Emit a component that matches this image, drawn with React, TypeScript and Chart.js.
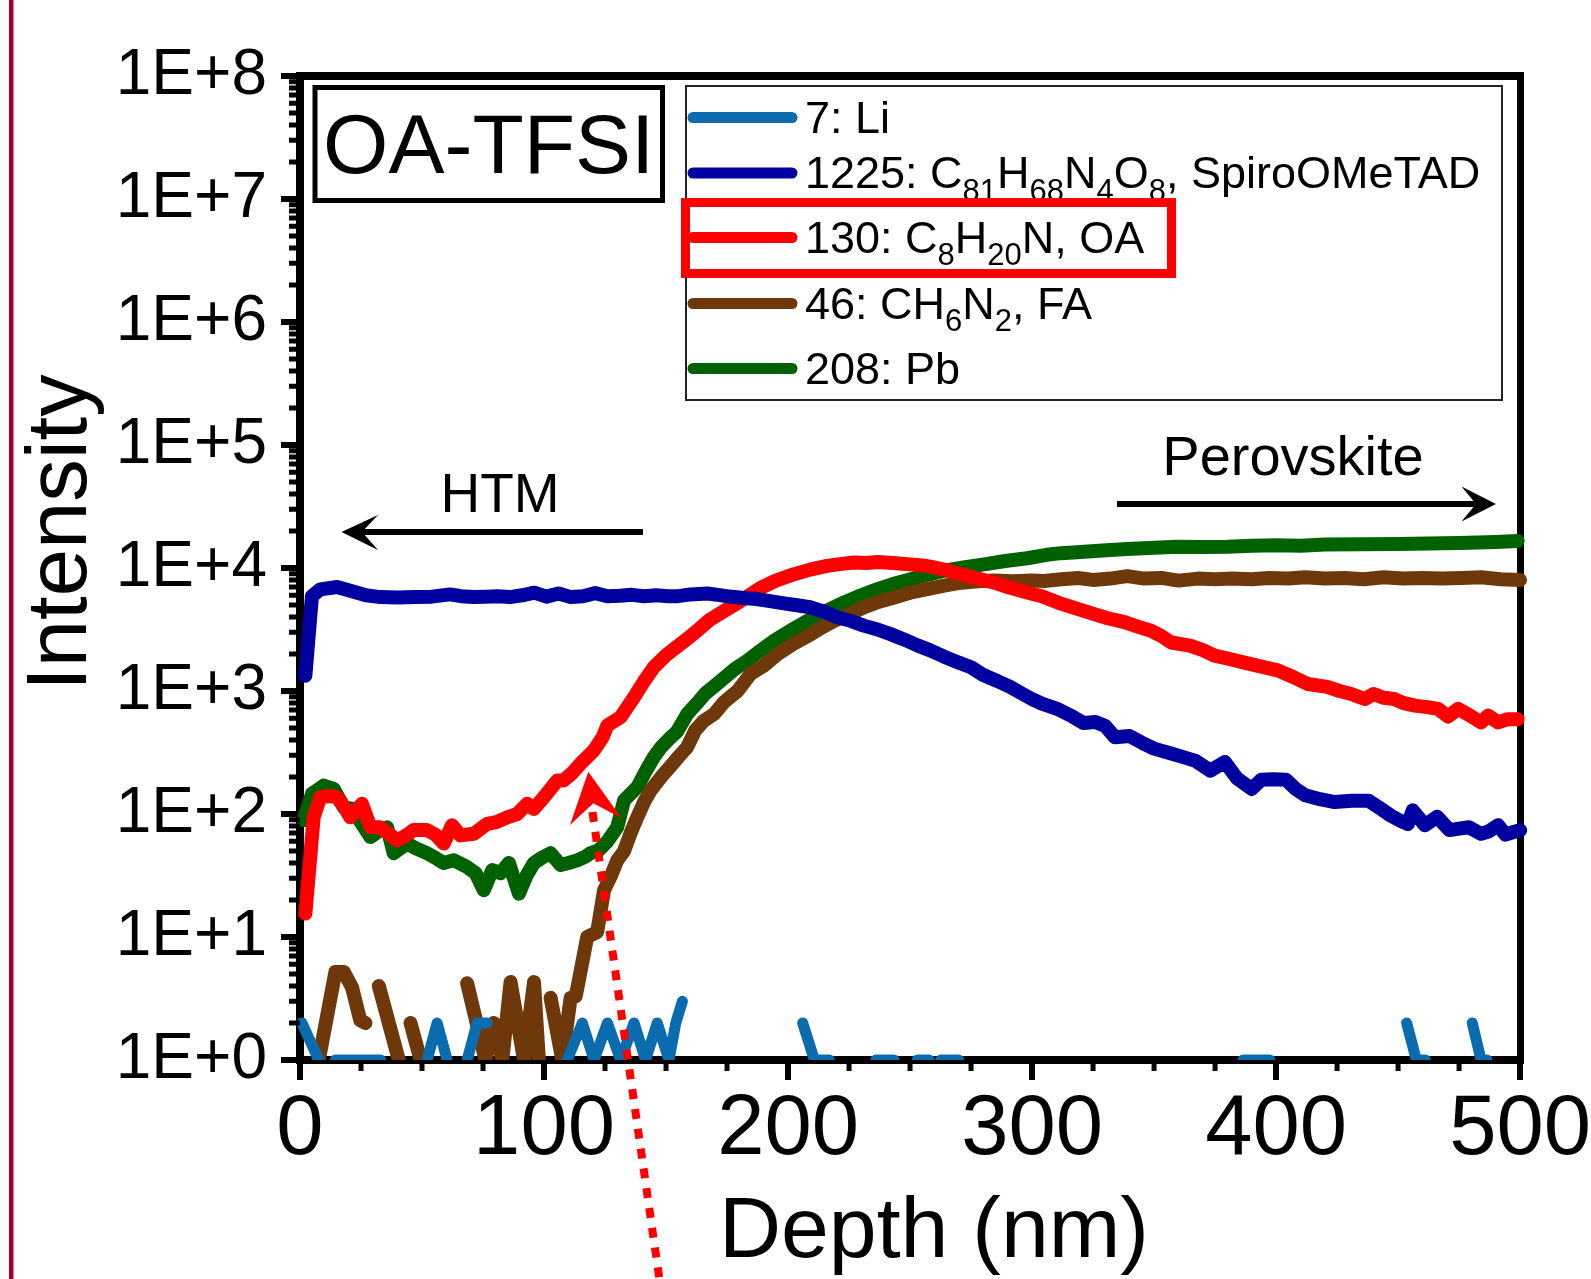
import React, { useEffect, useRef } from 'react';
import { Chart, registerables } from 'chart.js';

Chart.register(...registerables);

const FONT = '"Liberation Sans", Arial, Helvetica, sans-serif';
const W = 1591;
const H = 1279;

// ---------- data (depth in nm, intensity in counts; null = no counts) ----------
const liDepth = [0.8, 7.7, 11, 14.5, 33, 42, 52.1, 56.2, 60.3, 64, 68.5, 72.6, 76.7, 93, 109.5, 115.7, 120.5, 126, 131.4, 136.9, 141.6, 146.4, 151.2, 154, 156.7, 180, 206, 210.8, 216.9, 226, 236, 243.4, 248, 253, 257.8, 260, 262.6, 269.9, 330, 386.5, 397.4, 425, 453.5, 457.5, 461.2, 470, 480.4, 484, 486.4];
const liCounts = [2, 1, null, 1, 1, null, 1, 2, 1, null, 1, 2, 2, null, 1, 2, 1, 2, 1, 2, 1, 2, 1, 2, 3, null, 2, 1, 1, null, 1, 1, null, 1, 1, null, 1, 1, null, 1, 1, null, 2, 1, 1, null, 2, 1, 1];

const spiroDepth = [2.2, 4.9, 8.3, 15.2, 22, 27, 33, 40, 47, 54, 61.5, 66, 71, 76, 81, 86, 91, 96, 101, 106, 111, 116, 121, 126, 131, 136, 141, 146, 151, 155, 160, 167, 175, 182, 187, 192, 197, 203, 209, 215, 220, 226, 231, 237, 242, 248, 253, 258, 264, 270, 275, 280, 286, 291, 296, 300, 304, 310, 316, 321, 326, 330, 334, 340, 345, 350, 357, 362, 367, 373, 379, 384, 390, 394, 399, 404, 408, 412, 418, 424, 431, 438, 443, 447, 451, 454, 456, 461, 466, 471, 475, 479, 484, 487, 491, 494, 497, 500];
const spiroCounts = [1330, 5900, 6700, 7000, 6400, 6000, 5800, 5750, 5800, 5850, 6100, 5900, 5800, 5850, 5900, 5800, 6000, 6300, 5850, 6200, 5800, 5900, 6250, 5900, 5950, 6050, 5900, 6000, 5900, 5900, 6100, 6200, 5900, 5700, 5600, 5400, 5200, 5000, 4800, 4400, 4000, 3700, 3400, 3150, 2900, 2600, 2350, 2150, 1900, 1700, 1560, 1350, 1200, 1080, 950, 860, 790, 720, 630, 550, 560, 520, 420, 430, 380, 340, 310, 290, 270, 225, 265, 195, 160, 190, 192, 190, 160, 142, 132, 125, 128, 128, 110, 97, 88, 83, 107, 81, 95, 74, 76, 78, 69, 72, 81, 68, 71, 74];

const oaDepth = [2.2, 5.6, 8.3, 12, 15.2, 18, 20.6, 25.4, 28.9, 33, 36, 39.8, 43, 46.6, 52, 55.5, 58.9, 62.3, 65.8, 71.2, 76.7, 80.5, 84.9, 89, 93.1, 95.8, 100, 105.4, 108, 111.5, 115, 120.5, 124, 126, 131.4, 136.9, 141, 145, 150, 154.6, 158.7, 162.8, 168, 173.8, 180, 188.8, 195, 202.5, 209, 216, 222, 227, 232, 236.7, 243, 250, 255, 260, 265, 270.8, 277, 284.5, 291, 298, 304, 311.9, 318, 325.5, 331, 337.9, 343, 348.8, 353, 357, 364.7, 370, 374.8, 381, 387, 394, 400.7, 407, 413, 421, 426, 430.8, 436.3, 440, 444, 448.5, 452, 456.8, 462, 466.4, 470.5, 474.6, 479, 484, 486.9, 491, 495, 499];
const oaCounts = [15.5, 94, 137, 140, 137, 115, 94, 121, 78, 78, 70, 61, 66, 74, 74, 68, 57.5, 81, 67, 69, 83, 86, 94, 100, 121, 110, 137, 187, 187, 215, 257, 330, 420, 525, 613, 890, 1200, 1560, 1950, 2300, 2650, 3100, 3800, 4470, 5300, 6900, 7900, 8900, 9700, 10400, 10800, 11100, 11000, 11200, 11000, 10700, 10500, 10100, 9600, 8900, 8300, 7600, 6900, 6330, 5900, 5130, 4700, 4220, 3900, 3630, 3350, 3090, 2800, 2480, 2340, 2150, 1940, 1820, 1700, 1580, 1470, 1300, 1140, 1080, 1000, 946, 860, 946, 880, 860, 800, 760, 740, 716, 620, 716, 640, 556, 630, 556, 590, 590];

const faDepth = [7.7, 14.5, 17.9, 21.3, 24.7, 26.8, 29.5, 32.3, 40.5, 43, 45.3, 49.4, 58, 68.5, 76, 79.4, 82.9, 86.3, 91.8, 95.9, 97.9, 100, 102.7, 107.5, 110.9, 113, 117.7, 121.8, 124.6, 127.3, 130, 132.8, 135.5, 138.2, 141, 143.7, 148, 151.9, 155, 158.7, 162, 165.6, 169.7, 174, 179.3, 184.7, 190, 195.7, 202, 209.3, 214, 219, 225, 231, 237, 243.5, 250, 257, 264, 271, 278, 284.5, 292, 300, 305, 312, 318.8, 325, 332, 339, 346, 353, 360, 368, 375, 382, 390, 397, 405, 412, 420, 428, 436, 444, 452, 460, 468, 476, 484, 492, 500];
const faCounts = [1, 5.2, 5.2, 3.9, 2.1, 2, null, 4, 1, null, 2, 1, null, 4.2, 1, 2, 1, 4.3, 1, 4.3, 1, null, 3.2, 1, 3.2, 3.3, 10, 11, 24, 31, 42, 50, 70, 94, 125, 155, 200, 245, 290, 350, 480, 575, 650, 820, 1000, 1380, 1600, 1990, 2400, 2890, 3300, 3720, 4200, 4790, 5300, 5760, 6300, 6740, 7200, 7600, 7800, 7900, 7800, 7900, 7850, 8100, 8300, 8000, 8200, 8600, 8200, 8300, 7900, 8200, 8100, 8200, 8100, 8300, 8200, 8400, 8200, 8300, 8100, 8400, 8200, 8300, 8200, 8300, 8400, 8100, 8000];

const pbDepth = [1.5, 4.9, 9.7, 13.8, 17.9, 21.2, 25, 28.9, 32, 35.7, 38.4, 43.8, 48, 52, 55.5, 58.9, 63, 68.5, 72, 75.3, 78.8, 82.2, 85.6, 89.7, 93, 95.9, 99, 102.7, 106.8, 110, 113.6, 117, 119, 122.5, 126, 130, 132.8, 138.3, 141.5, 145, 148, 151.9, 154.6, 158.7, 162.8, 166, 172.4, 178, 183.4, 189, 194.3, 201, 208, 215, 223, 230, 236.7, 243, 250.3, 257, 264, 272, 280.4, 289, 298, 306, 311.9, 320, 332, 339, 350, 359.7, 370, 380, 390, 400, 410, 420, 435, 450, 462.6, 475, 490, 499];
const pbCounts = [89, 146, 170, 160, 114, 110, 85, 65, 72, 78, 48, 57.5, 52, 48, 44, 40, 42, 37, 33, 24, 35, 33, 40, 22.5, 32, 40, 44, 48, 38.5, 40, 42, 45, 48, 51, 60, 78, 129, 166, 220, 290, 350, 420, 470, 650, 800, 950, 1210, 1500, 1770, 2150, 2560, 3100, 3720, 4400, 5250, 6000, 6740, 7400, 8100, 8800, 9500, 10100, 10700, 11400, 12000, 12800, 13200, 13500, 14000, 14300, 14600, 14900, 14800, 14900, 15200, 15300, 15200, 15500, 15600, 15700, 15800, 16000, 16300, 16600];

const yTickValues = [1, 10, 100, 1e3, 1e4, 1e5, 1e6, 1e7, 1e8];
const yTickLabels = ['1E+0', '1E+1', '1E+2', '1E+3', '1E+4', '1E+5', '1E+6', '1E+7', '1E+8'];
const xTickValues = [0, 100, 200, 300, 400, 500];
const xTickLabels = ['0', '100', '200', '300', '400', '500'];
const xMinorStep = 25;

const legendLabels = [
  '7: Li',
  '1225: C_{81}H_{68}N_{4}O_{8}, SpiroOMeTAD',
  '130: C_{8}H_{20}N, OA',
  '46: CH_{6}N_{2}, FA',
  '208: Pb',
];
const seriesColors = ['#0A6BAE', '#0000A0', '#FF0000', '#6F380B', '#006100'];

// ---------- helpers ----------
const toPoints = (xs: number[], ys: (number | null)[]) => xs.map((x, i) => ({ x, y: ys[i] }));

function drawRich(ctx: CanvasRenderingContext2D, text: string, x: number, y: number, size: number) {
  const parts = text.split(/(_\{[^}]*\})/);
  let cx = x;
  ctx.textAlign = 'left';
  ctx.textBaseline = 'alphabetic';
  for (const p of parts) {
    if (!p) continue;
    if (p.startsWith('_{')) {
      const t = p.slice(2, -1);
      ctx.font = `${Math.round(size * 0.7)}px ${FONT}`;
      ctx.fillText(t, cx, y + size * 0.28);
      cx += ctx.measureText(t).width;
    } else {
      ctx.font = `${size}px ${FONT}`;
      ctx.fillText(p, cx, y);
      cx += ctx.measureText(p).width;
    }
  }
}

function arrowHead(ctx: CanvasRenderingContext2D, pts: number[][]) {
  ctx.beginPath();
  ctx.moveTo(pts[0][0], pts[0][1]);
  for (let i = 1; i < pts.length; i++) ctx.lineTo(pts[i][0], pts[i][1]);
  ctx.closePath();
  ctx.fill();
}

const overlayPlugin = {
  id: 'overlay',
  afterDraw(chart: any) {
    const { ctx, chartArea: ca, scales } = chart;
    const xs = scales.x;
    const ys = scales.y;
    ctx.save();

    // left page border (crimson bar)
    ctx.fillStyle = '#A3002A';
    ctx.fillRect(9, 0, 4.5, H);

    // minor ticks
    ctx.strokeStyle = '#000';
    ctx.lineWidth = 5;
    ctx.lineCap = 'butt';
    ctx.beginPath();
    for (let e = 0; e < 8; e++) {
      for (let m = 2; m <= 9; m++) {
        const py = ys.getPixelForValue(m * Math.pow(10, e));
        ctx.moveTo(ca.left - 11, py);
        ctx.lineTo(ca.left, py);
      }
    }
    for (let v = xMinorStep; v < 500; v += xMinorStep) {
      if (v % 100 === 0) continue;
      const px = xs.getPixelForValue(v);
      ctx.moveTo(px, ca.bottom);
      ctx.lineTo(px, ca.bottom + 11);
    }
    ctx.stroke();

    // OA-TFSI label box
    ctx.lineWidth = 5;
    ctx.strokeStyle = '#000';
    ctx.strokeRect(315, 87.5, 347.5, 113);
    ctx.fillStyle = '#000';
    ctx.font = `84px ${FONT}`;
    ctx.textAlign = 'center';
    ctx.textBaseline = 'alphabetic';
    ctx.fillText('OA-TFSI', 488.75, 173);

    // legend
    ctx.fillStyle = '#fff';
    ctx.fillRect(686, 86, 816, 314);
    ctx.lineWidth = 2;
    ctx.strokeStyle = '#222';
    ctx.strokeRect(686, 86, 816, 314);
    const rowY = [117.5, 173, 237.5, 303.5, 368.5];
    legendLabels.forEach((lab, i) => {
      ctx.strokeStyle = seriesColors[i];
      ctx.lineWidth = 11;
      ctx.lineCap = 'round';
      ctx.beginPath();
      ctx.moveTo(693, rowY[i]);
      ctx.lineTo(792, rowY[i]);
      ctx.stroke();
      ctx.fillStyle = '#000';
      drawRich(ctx, lab, 805, rowY[i] + 15, 45);
    });
    // red highlight rectangle
    ctx.lineCap = 'butt';
    ctx.strokeStyle = '#FF0000';
    ctx.lineWidth = 9;
    ctx.strokeRect(685.5, 202.5, 486, 71);

    // HTM label + arrow
    ctx.fillStyle = '#000';
    ctx.strokeStyle = '#000';
    ctx.font = `55px ${FONT}`;
    ctx.textAlign = 'center';
    ctx.fillText('HTM', 500, 512);
    ctx.lineWidth = 6;
    ctx.beginPath();
    ctx.moveTo(643, 532);
    ctx.lineTo(362, 532);
    ctx.stroke();
    arrowHead(ctx, [[341.5, 532], [378, 515], [362, 532], [378, 550]]);

    // Perovskite label + arrow
    ctx.font = `56px ${FONT}`;
    ctx.fillText('Perovskite', 1293, 475);
    ctx.beginPath();
    ctx.moveTo(1117, 504);
    ctx.lineTo(1476, 504);
    ctx.stroke();
    arrowHead(ctx, [[1496, 504], [1461.5, 486.5], [1476, 504], [1461.5, 521.5]]);

    // red dotted pointer arrow
    ctx.strokeStyle = '#FF0000';
    ctx.fillStyle = '#FF0000';
    ctx.lineWidth = 8;
    ctx.setLineDash([10, 10]);
    ctx.beginPath();
    ctx.moveTo(592.5, 812);
    ctx.lineTo(661, 1290);
    ctx.stroke();
    ctx.setLineDash([]);
    arrowHead(ctx, [[588.3, 771.7], [621.7, 818.3], [593.3, 803.3], [570, 825]]);

    ctx.restore();
  },
};

export default function App() {
  const ref = useRef<HTMLCanvasElement>(null);

  useEffect(() => {
    document.body.style.margin = '0';
    const canvas = ref.current as HTMLCanvasElement;
    const lineDs = (label: string, xs: number[], ys: (number | null)[], color: string, width: number) => ({
      label,
      data: toPoints(xs, ys),
      borderColor: color,
      backgroundColor: color,
      borderWidth: width,
      pointRadius: 0,
      tension: 0,
      fill: false,
      spanGaps: false,
      borderJoinStyle: 'round' as const,
      borderCapStyle: 'round' as const,
      clip: { left: 8, top: 8, right: 8, bottom: 0 },
    });

    const chart = new Chart(canvas, {
      type: 'line',
      data: {
        datasets: [
          lineDs('7: Li', liDepth, liCounts, seriesColors[0], 11),
          lineDs('1225: SpiroOMeTAD', spiroDepth, spiroCounts, seriesColors[1], 14),
          lineDs('130: OA', oaDepth, oaCounts, seriesColors[2], 14),
          lineDs('46: FA', faDepth, faCounts, seriesColors[3], 14),
          lineDs('208: Pb', pbDepth, pbCounts, seriesColors[4], 14),
        ],
      },
      options: {
        animation: false,
        responsive: false,
        devicePixelRatio: 1,
        events: [],
        elements: { line: { borderWidth: 14 }, point: { radius: 0 } },
        layout: { padding: { left: 0, top: 76, right: 69.5, bottom: 0 } },
        plugins: {
          legend: { display: false },
          tooltip: { enabled: false },
          title: { display: false },
        },
        scales: {
          x: {
            type: 'linear',
            position: 'bottom',
            min: 0,
            max: 500,
            afterBuildTicks: (s: any) => {
              s.ticks = xTickValues.map((v) => ({ value: v }));
            },
            afterFit: (s: any) => {
              s.height = 219;
            },
            ticks: {
              font: { family: FONT, size: 85 },
              color: '#000',
              padding: 0,
              maxRotation: 0,
              minRotation: 0,
              autoSkip: false,
              callback: (_v: any, i: number) => xTickLabels[i],
            },
            grid: {
              display: true,
              drawOnChartArea: false,
              drawTicks: true,
              tickLength: 20,
              tickWidth: 6,
              tickColor: '#000',
              lineWidth: 8,
            },
            border: { display: true, width: 8, color: '#000' },
            title: {
              display: true,
              text: '  Depth (nm)',
              color: '#000',
              font: { family: FONT, size: 86, lineHeight: 1 },
              padding: { top: 0, bottom: 3 },
            },
          },
          y: {
            type: 'logarithmic',
            position: 'left',
            min: 1,
            max: 1e8,
            afterBuildTicks: (s: any) => {
              s.ticks = yTickValues.map((v) => ({ value: v }));
            },
            afterFit: (s: any) => {
              s.width = 300;
            },
            ticks: {
              font: { family: FONT, size: 64 },
              color: '#000',
              padding: 14,
              autoSkip: false,
              callback: (_v: any, i: number) => yTickLabels[i],
            },
            grid: {
              display: true,
              drawOnChartArea: false,
              drawTicks: true,
              tickLength: 19,
              tickWidth: 6,
              tickColor: '#000',
              lineWidth: 8,
            },
            border: { display: true, width: 8, color: '#000' },
            title: {
              display: true,
              text: '   Intensity',
              color: '#000',
              font: { family: FONT, size: 85, lineHeight: 1.2 },
              padding: { top: 12, bottom: 0 },
            },
          },
          x2: {
            type: 'linear',
            position: 'top',
            min: 0,
            max: 500,
            ticks: { display: false },
            grid: { display: false, drawTicks: false, lineWidth: 8 },
            border: { display: true, width: 8, color: '#000' },
            afterFit: (s: any) => {
              s.height = 0;
            },
          },
          y2: {
            type: 'logarithmic',
            position: 'right',
            min: 1,
            max: 1e8,
            ticks: { display: false },
            grid: { display: false, drawTicks: false, lineWidth: 8 },
            border: { display: true, width: 7, color: '#000' },
            afterFit: (s: any) => {
              s.width = 0;
            },
          },
        },
      } as any,
      plugins: [overlayPlugin],
    });

    return () => {
      chart.destroy();
    };
  }, []);

  return (
    <div style={{ position: 'absolute', left: 0, top: 0, width: W, height: H, background: '#fff', overflow: 'hidden' }}>
      <canvas ref={ref} width={W} height={H} style={{ display: 'block', width: W, height: H }} />
    </div>
  );
}
